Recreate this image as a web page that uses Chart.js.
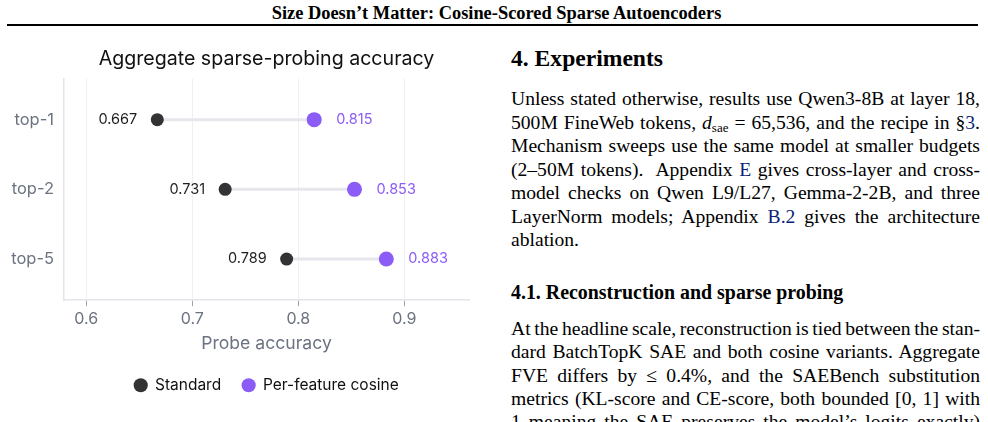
<!DOCTYPE html>
<html><head><meta charset="utf-8">
<script src="https://cdn.jsdelivr.net/npm/chart.js@4.4.0/dist/chart.umd.min.js"></script>
<style>
html,body{margin:0;padding:0;background:#fff;}
body{width:988px;height:422px;overflow:hidden;position:relative;}
#hdr{position:absolute;left:0;width:988px;top:2px;text-align:center;font:bold 18.4px "Liberation Serif","Times New Roman",serif;color:#000;line-height:22px;padding-left:5px;box-sizing:border-box;}
#rule{position:absolute;left:7px;width:971px;top:24px;height:2px;background:#000;}
#wrap{position:absolute;left:0;top:30px;width:480px;height:380px;}
.t{position:absolute;left:511px;width:469px;font-family:"Liberation Serif","Times New Roman",serif;font-size:19.6px;color:#000;line-height:24px;height:24px;white-space:nowrap;text-align:justify;text-align-last:justify;word-spacing:-1.5px;}
.t.l{text-align:left;text-align-last:left;word-spacing:0;}
.h{position:absolute;left:511px;font-family:"Liberation Serif","Times New Roman",serif;font-weight:bold;color:#000;white-space:nowrap;}
.lnk{color:#0b1f7a;}
.m{font-style:italic;}
sub{font-size:13px;vertical-align:-3px;line-height:0;}
</style>
</head><body>
<div id="hdr">Size Doesn’t Matter: Cosine-Scored Sparse Autoencoders</div>
<div id="rule"></div>
<div id="wrap"><canvas id="c" width="480" height="380"></canvas></div>

<div class="h" style="top:43px;font-size:23.6px;line-height:30px;">4. Experiments</div>
<div class="t" style="top:87px">Unless stated otherwise, results use Qwen3-8B at layer 18,</div>
<div class="t" style="top:111px">500M FineWeb tokens, <span class="m">d</span><sub>sae</sub> = 65,536, and the recipe in §<span class="lnk">3</span>.</div>
<div class="t" style="top:134px">Mechanism sweeps use the same model at smaller budgets</div>
<div class="t" style="top:158px">(2–50M tokens).&nbsp; Appendix <span class="lnk">E</span> gives cross-layer and cross-</div>
<div class="t" style="top:181px">model checks on Qwen L9/L27, Gemma-2-2B, and three</div>
<div class="t" style="top:205px">LayerNorm models; Appendix <span class="lnk">B.2</span> gives the architecture</div>
<div class="t l" style="top:228px">ablation.</div>

<div class="h" style="top:280px;font-size:19.9px;line-height:24px;">4.1. Reconstruction and sparse probing</div>
<div class="t" style="top:317px">At the headline scale, reconstruction is tied between the stan-</div>
<div class="t" style="top:340px">dard BatchTopK SAE and both cosine variants. Aggregate</div>
<div class="t" style="top:364px">FVE differs by ≤ 0.4%, and the SAEBench substitution</div>
<div class="t" style="top:387px">metrics (KL-score and CE-score, both bounded [0, 1] with</div>
<div class="t" style="top:410px">1 meaning the SAE preserves the model’s logits exactly)</div>

<script>
const categories = ['top-1', 'top-2', 'top-5'];
const standard = [0.667, 0.731, 0.789];
const perFeatureCosine = [0.815, 0.853, 0.883];
const xTickValues = [0.6, 0.7, 0.8, 0.9];
const seriesNames = ['Standard', 'Per-feature cosine'];
const chartTitle = 'Aggregate sparse-probing accuracy';
const xAxisTitle = 'Probe accuracy';

const FONT = 'Inter, "Liberation Sans", Arial, sans-serif';
const COL_STD = '#333333';
const COL_COS = '#8b5cf6';

const connectorSets = categories.map((c, i) => ({
  type: 'scatter',
  label: '',
  data: [{x: standard[i], y: i}, {x: perFeatureCosine[i], y: i}],
  showLine: true,
  borderColor: '#e6e6ec',
  borderWidth: 3,
  pointRadius: 0,
  pointHoverRadius: 0,
  order: 3,
  fill: false
}));

const valueLabels = {
  id: 'valueLabels',
  afterDatasetsDraw(chart) {
    const ctx = chart.ctx;
    ctx.save();
    ctx.font = '14.5px ' + FONT;
    ctx.textBaseline = 'middle';
    [0, 1].forEach(di => {
      const meta = chart.getDatasetMeta(di);
      const vals = di === 0 ? standard : perFeatureCosine;
      meta.data.forEach((pt, i) => {
        const txt = vals[i].toFixed(3);
        if (di === 0) {
          ctx.textAlign = 'right'; ctx.fillStyle = '#1f1f1f';
          ctx.fillText(txt, pt.x - 20, pt.y);
        } else {
          ctx.textAlign = 'left'; ctx.fillStyle = COL_COS;
          ctx.fillText(txt, pt.x + 22, pt.y);
        }
      });
    });
    ctx.restore();
  }
};

new Chart(document.getElementById('c'), {
  type: 'scatter',
  data: {
    datasets: [
      {
        label: seriesNames[0],
        data: standard.map((v, i) => ({x: v, y: i})),
        backgroundColor: COL_STD, borderColor: COL_STD, borderWidth: 0,
        pointRadius: 6.5, pointHoverRadius: 6.5, pointStyle: 'circle', order: 1
      },
      {
        label: seriesNames[1],
        data: perFeatureCosine.map((v, i) => ({x: v, y: i})),
        backgroundColor: COL_COS, borderColor: COL_COS, borderWidth: 0,
        pointRadius: 7.5, pointHoverRadius: 7.5, pointStyle: 'circle', order: 2
      },
      ...connectorSets
    ]
  },
  options: {
    responsive: false,
    animation: false,
    events: [],
    layout: {padding: {left: 0, right: 11, top: 0, bottom: 7}},
    plugins: {
      title: {
        display: true, text: chartTitle, fullSize: false, color: '#111',
        font: {family: FONT, size: 19.6, weight: 'normal', lineHeight: 1.2},
        padding: {top: 17, bottom: 8}
      },
      legend: {
        position: 'bottom', fullSize: false,
        labels: {
          usePointStyle: true, pointStyle: 'circle', boxWidth: 13, boxHeight: 10,
          color: '#111', font: {family: FONT, size: 15.5}, padding: 21,
          filter: item => item.datasetIndex < 2
        }
      },
      tooltip: {enabled: false}
    },
    scales: {
      x: {
        type: 'linear', min: 0.579, max: 0.961,
        afterBuildTicks: s => { s.ticks = xTickValues.map(v => ({value: v})); },
        grid: {color: '#eef0f3', lineWidth: 1, tickColor: '#9ca3af', tickLength: 6, drawTicks: true},
        border: {color: '#e3e5ea', width: 1.5},
        ticks: {color: '#6b7280', font: {family: FONT, size: 16}, padding: 3, callback: v => Number(v).toFixed(1)},
        title: {display: true, text: xAxisTitle, color: '#6b7280', font: {family: FONT, size: 17.6}, padding: {top: 2, bottom: 2}}
      },
      y: {
        type: 'linear', min: -0.59, max: 2.59, reverse: true,
        afterBuildTicks: s => { s.ticks = categories.map((c, i) => ({value: i})); },
        afterFit: s => { s.width = 64; },
        grid: {display: false, drawTicks: false},
        border: {display: true, color: '#e3e5ea', width: 1.5},
        ticks: {color: '#6b7280', font: {family: FONT, size: 16.5}, padding: 10, callback: v => categories[v]}
      }
    }
  },
  plugins: [valueLabels]
});
</script>
</body></html>
